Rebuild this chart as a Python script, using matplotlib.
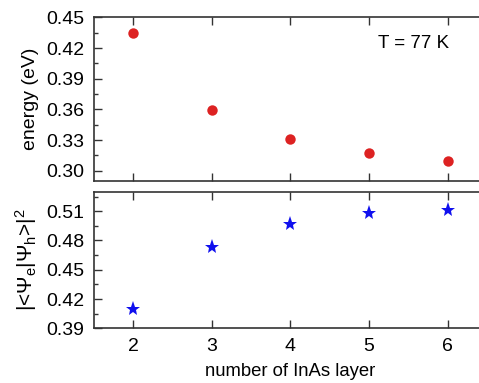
import matplotlib
matplotlib.use('Agg')
from matplotlib import pyplot as plt
from matplotlib.ticker import MultipleLocator

plt.rcParams['font.family'] = ['Liberation Sans', 'DejaVu Sans']
plt.rcParams['mathtext.fontset'] = 'custom'
plt.rcParams['mathtext.rm'] = 'Liberation Sans'
plt.rcParams['mathtext.it'] = 'Liberation Sans'

# data
layers = [2, 3, 4, 5, 6]
energy = [0.435, 0.359, 0.331, 0.317, 0.310]
overlap = [0.410, 0.473, 0.497, 0.508, 0.511]

fig = plt.figure(figsize=(4.79, 3.83), dpi=100)
ax1 = fig.add_axes([0.1962, 0.5274, 0.8205, 0.4274])
ax2 = fig.add_axes([0.1962, 0.1428, 0.8205, 0.3567])

ax1.plot(layers, energy, 'o', color='#dd2222', markersize=7.5, markeredgewidth=0)
ax2.plot(layers, overlap, '*', color='#1010ee', markersize=11, markeredgewidth=0)

ax1.set_ylim(0.29, 0.45)
ax1.yaxis.set_major_locator(MultipleLocator(0.03))
ax1.yaxis.set_minor_locator(MultipleLocator(0.015))
ax1.set_ylabel('energy (eV)', fontsize=14)
ax1.text(5.56, 0.424, 'T = 77 K', fontsize=13.5, ha='center', va='center')
ax1.tick_params(axis='x', labelbottom=False)

ax2.set_ylim(0.39, 0.53)
ax2.yaxis.set_major_locator(MultipleLocator(0.03))
ax2.yaxis.set_minor_locator(MultipleLocator(0.015))
ax2.set_ylabel(r'|<$\Psi_{\rm e}$|$\Psi_{\rm h}$>|$^2$', fontsize=15)
ax2.set_xlabel('number of InAs layer', fontsize=13.3, labelpad=6)

for ax in (ax1, ax2):
    ax.set_xlim(1.5, 6.5)
    ax.xaxis.set_major_locator(MultipleLocator(1))
    ax.tick_params(which='both', direction='in', top=True, right=False,
                   labelsize=14, color='#333333', width=1.0, pad=7)
    ax.tick_params(which='major', length=6)
    ax.tick_params(which='minor', length=3)
    for s in ax.spines.values():
        s.set_linewidth(1.2)
        s.set_color('#333333')
    ax.yaxis.set_label_coords(-0.14, 0.5)

fig.savefig('out.png', dpi=100)
